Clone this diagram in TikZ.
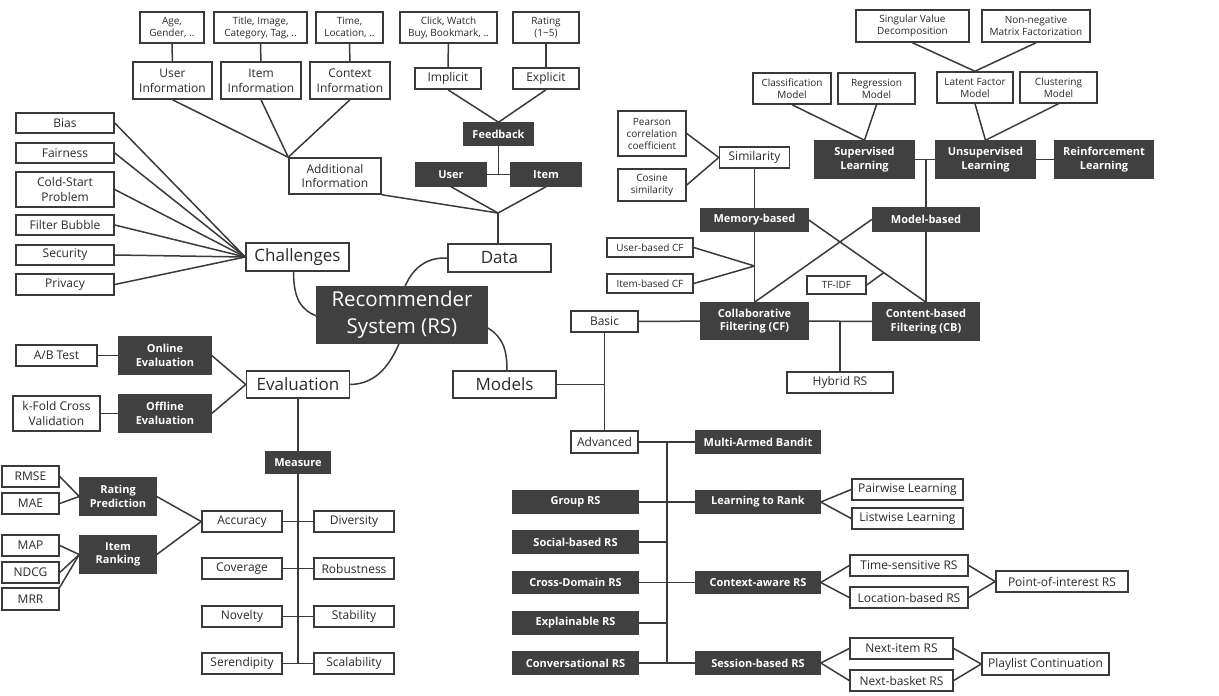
\documentclass[tikz,border=0pt]{standalone}
\usepackage{fontspec}
\setmainfont{Open Sans}
\usetikzlibrary{calc}
\definecolor{edgec}{HTML}{3A3A3A}
\definecolor{darkc}{HTML}{404040}
\definecolor{textc}{HTML}{2A2A2A}
\newcommand\myS{\fontsize{10}{12}\selectfont}
\newcommand\myN{\fontsize{12}{14.6}\selectfont}
\newcommand\myB{\fontsize{11}{13.6}\selectfont\bfseries}
\newcommand\myL{\fontsize{17}{20}\selectfont}
\newcommand\myX{\fontsize{20.5}{27}\selectfont}
\tikzset{
  wb/.style={draw=edgec, line width=1.5pt, fill=white, text=textc, inner sep=0pt, align=center, font=\myN},
  db/.style={draw=darkc, line width=1.5pt, fill=darkc, text=white, inner sep=0pt, align=center, font=\myB},
  sz/.style 2 args={minimum width=#1pt, minimum height=#2pt},
  ln/.style={draw=edgec, line width=1.5pt},
}
\begin{document}
\begin{tikzpicture}[x=1pt,y=-1pt]
\fill[white] (0,0) rectangle (1219,696);
\useasboundingbox (0,0) rectangle (1219,696);

% ---------- Additional information ----------
\node[wb,sz={64}{31},font=\myS] (age) at (172,27.5) {Age,\\Gender, ..};
\node[wb,sz={93}{31},font=\myS] (title) at (260.5,27.5) {Title, Image,\\Category, Tag, ..};
\node[wb,sz={67}{31},font=\myS] (time) at (349.5,27.5) {Time,\\Location, ..};
\node[wb,sz={79}{37}] (uinfo) at (172.5,80.5) {User\\Information};
\node[wb,sz={80}{37}] (iinfo) at (261,80.5) {Item\\Information};
\node[wb,sz={80}{37}] (cinfo) at (350,80.5) {Context\\Information};
\node[wb,sz={92}{36}] (addinfo) at (335,176) {Additional\\Information};

% ---------- Challenges ----------
\node[wb,sz={98}{20}] (bias) at (65,123) {Bias};
\node[wb,sz={98}{20}] (fair) at (65,153) {Fairness};
\node[wb,sz={98}{35}] (cold) at (65,189.5) {Cold-Start\\Problem};
\node[wb,sz={98}{20}] (filter) at (65,225) {Filter Bubble};
\node[wb,sz={98}{20}] (secu) at (65,255) {Security};
\node[wb,sz={98}{21}] (priv) at (65,284.5) {Privacy};
\node[wb,sz={103}{28},font=\myL] (chal) at (297.5,257) {Challenges};

% ---------- Data ----------
\node[wb,sz={97}{31},font=\myS] (click) at (448.5,27.5) {Click, Watch\\Buy, Bookmark, ..};
\node[wb,sz={66}{31},font=\myS] (rating) at (546,27.5) {Rating\\(1\textasciitilde5)};
\node[wb,sz={66}{21}] (implicit) at (448,78.5) {Implicit};
\node[wb,sz={66}{21}] (explicit) at (546,78.5) {Explicit};
\node[db,sz={69}{22}] (feedback) at (498.5,134) {Feedback};
\node[db,sz={70}{23}] (user) at (451,174.5) {User};
\node[db,sz={70}{23}] (item) at (546,174.5) {Item};
\node[wb,sz={103}{28},font=\myL] (data) at (499.5,258) {Data};

% ---------- Center ----------
\node[db,sz={170}{56},font=\myX] (rs) at (402,315) {Recommender\\System (RS)};

% ---------- Evaluation ----------
\node[wb,sz={81}{21}] (ab) at (56.5,355.5) {A/B Test};
\node[db,sz={92}{37}] (online) at (165,355.5) {Online\\Evaluation};
\node[wb,sz={87}{35}] (kfold) at (56.5,413.5) {k-Fold Cross\\Validation};
\node[db,sz={92}{37}] (offline) at (165,413.5) {Offline\\Evaluation};
\node[wb,sz={103}{27},font=\myL] (eval) at (298,384.5) {Evaluation};
\node[db,sz={64}{21}] (measure) at (298,462.5) {Measure};
\node[wb,sz={80}{21}] (accuracy) at (242,521.5) {Accuracy};
\node[wb,sz={80}{21}] (diversity) at (354,521.5) {Diversity};
\node[wb,sz={80}{21}] (coverage) at (242,568.5) {Coverage};
\node[wb,sz={80}{21}] (robust) at (354,568.5) {Robustness};
\node[wb,sz={80}{21}] (novelty) at (242,616.5) {Novelty};
\node[wb,sz={80}{21}] (stability) at (354,616.5) {Stability};
\node[wb,sz={80}{21}] (seren) at (242,663.5) {Serendipity};
\node[wb,sz={80}{21}] (scal) at (354,663.5) {Scalability};
\node[db,sz={76}{37}] (ratpred) at (118,496.5) {Rating\\Prediction};
\node[db,sz={76}{37}] (itemrank) at (118,554.5) {Item\\Ranking};
\node[wb,sz={57}{21}] (rmse) at (30.5,476.5) {RMSE};
\node[wb,sz={57}{21}] (mae) at (30.5,503.5) {MAE};
\node[wb,sz={57}{21}] (map) at (30.5,545.5) {MAP};
\node[wb,sz={57}{21}] (ndcg) at (30.5,572.5) {NDCG};
\node[wb,sz={57}{22}] (mrr) at (30.5,599) {MRR};

% ---------- Models ----------
\node[wb,sz={103}{27},font=\myL] (models) at (504.5,384.5) {Models};
\node[wb,sz={67}{21}] (basic) at (604.5,321.5) {Basic};
\node[wb,sz={67}{22}] (advanced) at (604.5,442) {Advanced};
\node[db,sz={124}{22}] (mab) at (758,442) {Multi-Armed Bandit};
\node[db,sz={125}{22}] (group) at (575.5,502) {Group RS};
\node[db,sz={125}{22}] (social) at (575.5,542) {Social-based RS};
\node[db,sz={125}{22}] (cross) at (575.5,582.5) {Cross-Domain RS};
\node[db,sz={125}{22}] (explain) at (575.5,623) {Explainable RS};
\node[db,sz={125}{22}] (conv) at (575.5,663) {Conversational RS};
\node[db,sz={124}{22}] (ltr) at (758,502) {Learning to Rank};
\node[db,sz={124}{22}] (context) at (758,582.5) {Context-aware RS};
\node[db,sz={124}{22}] (session) at (758,663) {Session-based RS};
\node[wb,sz={111}{21}] (pair) at (907.5,489.5) {Pairwise Learning};
\node[wb,sz={111}{21}] (list) at (907.5,518.5) {Listwise Learning};
\node[wb,sz={118}{21}] (timers) at (909,565.5) {Time-sensitive RS};
\node[wb,sz={118}{21}] (locrs) at (909,597.5) {Location-based RS};
\node[wb,sz={132}{21}] (poi) at (1062,581.5) {Point-of-interest RS};
\node[wb,sz={103}{21}] (nextitem) at (901.5,648.5) {Next-item RS};
\node[wb,sz={103}{21}] (nextbasket) at (901.5,680.5) {Next-basket RS};
\node[wb,sz={127}{22}] (playlist) at (1045.5,664) {Playlist Continuation};

% ---------- CF / CB ----------
\node[wb,sz={68}{45},font=\myS] (pearson) at (652,133.5) {Pearson\\correlation\\coefficient};
\node[wb,sz={68}{32},font=\myS] (cosine) at (652,185) {Cosine\\similarity};
\node[wb,sz={70}{21}] (simil) at (754.5,157.5) {Similarity};
\node[db,sz={107}{22}] (memory) at (754.5,220) {Memory-based};
\node[wb,sz={86}{19},font=\myS] (ubcf) at (650,247.5) {User-based CF};
\node[wb,sz={86}{19},font=\myS] (ibcf) at (650,283.5) {Item-based CF};
\node[db,sz={107}{36}] (cf) at (754.5,321) {Collaborative\\Filtering (CF)};
\node[db,sz={107}{23}] (modelb) at (926,219.5) {Model-based};
\node[db,sz={107}{37}] (cb) at (926,321.5) {Content-based\\Filtering (CB)};
\node[wb,sz={59}{18},font=\myS] (tfidf) at (836.5,285) {TF-IDF};
\node[wb,sz={106}{21}] (hybrid) at (840,382.5) {Hybrid RS};
\node[wb,sz={78}{31},font=\myS] (classm) at (792,88.5) {Classification\\Model};
\node[wb,sz={77}{31},font=\myS] (regm) at (876.5,88.5) {Regression\\Model};
\node[wb,sz={76}{31},font=\myS] (latent) at (975,87.5) {Latent Factor\\Model};
\node[wb,sz={77}{31},font=\myS] (clust) at (1058.5,87.5) {Clustering\\Model};
\node[wb,sz={113}{32},font=\myS] (svd) at (912.5,26) {Singular Value\\Decomposition};
\node[wb,sz={108}{32},font=\myS] (nmf) at (1036,26) {Non-negative\\Matrix Factorization};
\node[db,sz={99}{37}] (sup) at (864.5,159.5) {Supervised\\Learning};
\node[db,sz={99}{37}] (unsup) at (985.5,159.5) {Unsupervised\\Learning};
\node[db,sz={98}{37}] (reinf) at (1104,159.5) {Reinforcement\\Learning};

% ================= connectors =================
% additional information
\draw[ln] (age) -- (uinfo);
\draw[ln] (title) -- (iinfo);
\draw[ln] (time) -- (cinfo);
\draw[ln] (uinfo.south) -- (addinfo.north west);
\draw[ln] (iinfo.south) -- (addinfo.north west);
\draw[ln] (cinfo.south) -- (addinfo.north west);

% challenges
\foreach \n in {bias,fair,cold,filter,secu,priv}
  \draw[ln] (\n.east) -- (chal.west);

% data
\coordinate (dj) at (498,213);
\coordinate (fj) at (498.5,174.5);
\draw[ln] (click) -- (implicit);
\draw[ln] (rating) -- (explicit);
\draw[ln] (implicit.south) -- (feedback.north);
\draw[ln] (explicit.south) -- (feedback.north);
\draw[ln] (feedback.south) -- (fj);
\draw[ln] (user.east) -- (item.west);
\draw[ln] (user.south) -- (dj);
\draw[ln] (item.south) -- (dj);
\draw[ln] (addinfo.south east) -- (dj);
\draw[ln] (dj) -- (data.north -| dj);

% center curves
\draw[ln] ([xshift=-4pt]chal.south) .. controls (293.5,300) and (302,310) .. ([yshift=-1pt]rs.west);
\draw[ln] (data.west) .. controls (422,257) and (411,273) .. ([xshift=3pt]rs.north);
\draw[ln] (eval.east) .. controls (378,384) and (391,362) .. ([xshift=-3pt]rs.south);
\draw[ln] ([yshift=-13pt]rs.east) .. controls (503,337) and (507,350) .. ([xshift=2.5pt]models.north);

% evaluation
\coordinate (mend) at (298,663.5);
\draw[ln] (ab) -- (online);
\draw[ln] (kfold) -- (offline);
\draw[ln] (online.east) -- (eval.west);
\draw[ln] (offline.east) -- (eval.west);
\draw[ln] (eval) -- (measure);
\draw[ln] (measure.south) -- (mend);
\draw[ln] (accuracy) -- (diversity);
\draw[ln] (coverage) -- (robust);
\draw[ln] (novelty) -- (stability);
\draw[ln] (seren) -- (scal);
\draw[ln] (rmse.east) -- (ratpred.west);
\draw[ln] (mae.east) -- (ratpred.west);
\draw[ln] (map.east) -- (itemrank.west);
\draw[ln] (ndcg.east) -- (itemrank.west);
\draw[ln] (mrr.north east) -- (itemrank.west);
\draw[ln] (ratpred.east) -- (accuracy.west);
\draw[ln] (itemrank.east) -- (accuracy.west);

% models
\coordinate (aj) at (667,442);
\coordinate (aend) at (667,663);
\draw[ln] (models.east) -- (models.east -| basic.south);
\draw[ln] (basic) -- (advanced);
\draw[ln] (basic) -- (cf);
\draw[ln] (advanced) -- (mab);
\draw[ln] (aj) -- (aend);
\draw[ln] (group) -- (ltr);
\draw[ln] (social.east) -- (social.east -| aj);
\draw[ln] (cross) -- (context);
\draw[ln] (explain.east) -- (explain.east -| aj);
\draw[ln] (conv) -- (session);
\draw[ln] (ltr.east) -- (pair.west);
\draw[ln] (ltr.east) -- (list.west);
\draw[ln] (context.east) -- (timers.west);
\draw[ln] (context.east) -- (locrs.west);
\draw[ln] (timers.east) -- (poi.west);
\draw[ln] (locrs.east) -- (poi.west);
\draw[ln] (session.east) -- (nextitem.west);
\draw[ln] (session.east) -- (nextbasket.west);
\draw[ln] (nextitem.east) -- (playlist.west);
\draw[ln] (nextbasket.east) -- (playlist.west);

% CF / CB
\coordinate (uj) at (754.5,266);
\coordinate (hj) at (840,321);
\coordinate (sj) at (926,159.5);
\draw[ln] (pearson.east) -- (simil.west);
\draw[ln] (cosine.east) -- (simil.west);
\draw[ln] (simil) -- (memory);
\draw[ln] (memory) -- (cf);
\draw[ln] (ubcf.east) -- (uj);
\draw[ln] (ibcf.east) -- (uj);
\draw[ln] (cf) -- (cb);
\draw[ln] (hj) -- (hybrid.north);
\draw[ln] (memory.east) -- (cb.north);
\draw[ln] (modelb.west) -- (cf.north);
\draw[ln] (tfidf.east) -- ($(memory.east)!0.64!(cb.north)$);
\draw[ln] (modelb) -- (cb);
\draw[ln] (modelb.north) -- (sj);
\draw[ln] (sup) -- (unsup);
\draw[ln] (unsup) -- (reinf);
\draw[ln] (classm.south) -- (sup.north);
\draw[ln] (regm.south) -- (sup.north);
\draw[ln] (latent.south) -- (unsup.north);
\draw[ln] (clust.south) -- (unsup.north);
\draw[ln] (svd.south) -- (latent.north);
\draw[ln] (nmf.south) -- (latent.north);
\end{tikzpicture}
\end{document}
